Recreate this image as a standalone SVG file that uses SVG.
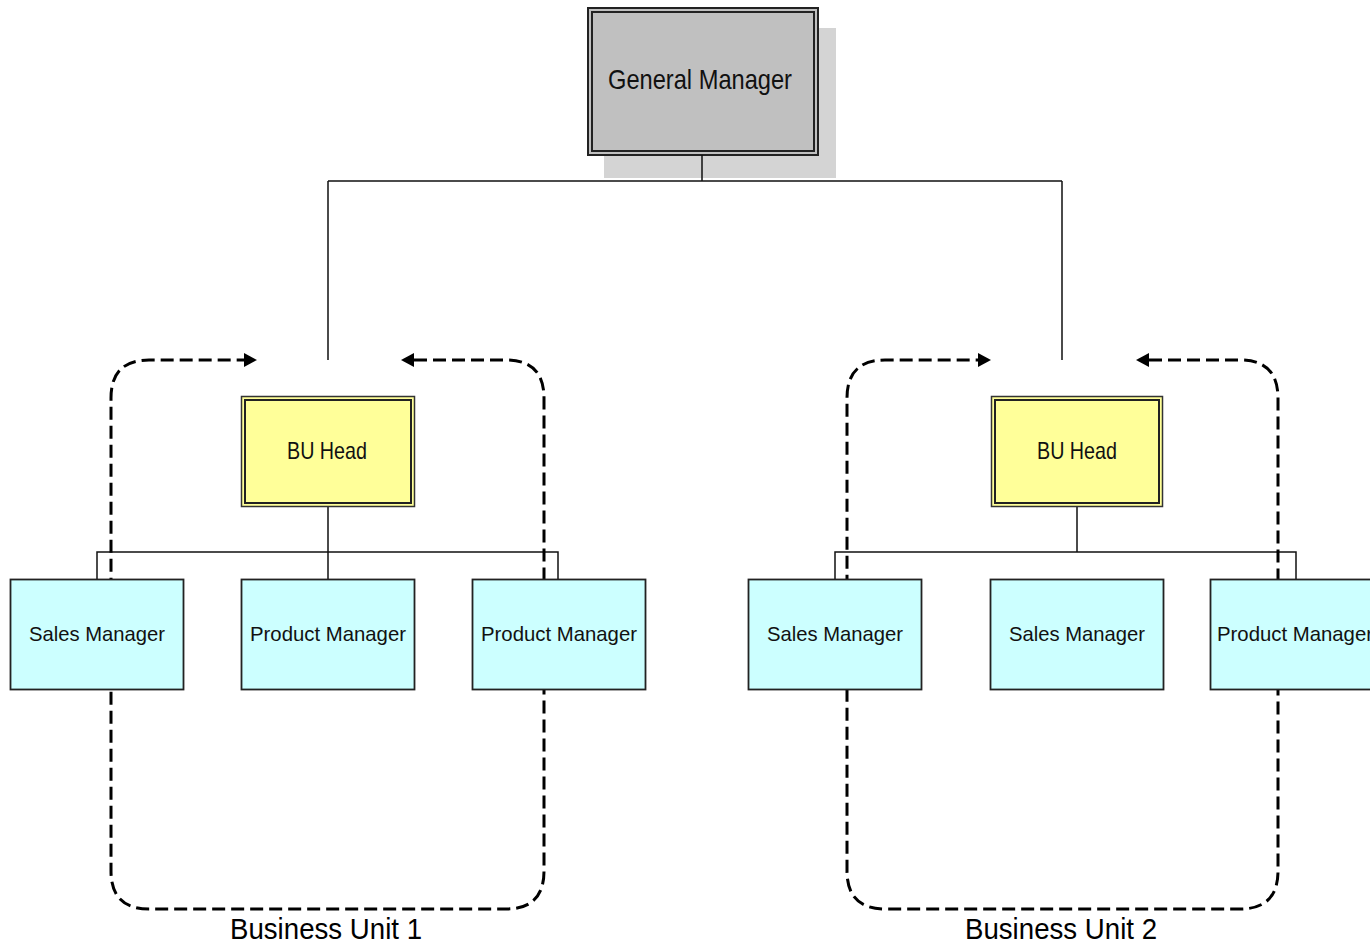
<svg xmlns="http://www.w3.org/2000/svg" width="1370" height="950" viewBox="0 0 1370 950">
  <style>
    .wire { fill: none; stroke: #111; stroke-width: 1.5; }
    .loop { fill: none; stroke: #000; stroke-width: 3; stroke-dasharray: 13 6; }
    .gm-outer { fill: #c0c0c0; stroke: #222; stroke-width: 2; }
    .gm-inner { fill: none; stroke: #222; stroke-width: 2; }
    .shadow { fill: #d4d4d4; }
    .head-outer { fill: #ffff99; stroke: #333; stroke-width: 1.5; }
    .head-inner { fill: none; stroke: #222; stroke-width: 2; }
    .role { fill: #ccffff; stroke: #222; stroke-width: 1.8; }
    text { font-family: "Liberation Sans", Arial, sans-serif; fill: #111; text-anchor: middle; }
    .t-gm { font-size: 28px; }
    .t-head { font-size: 24px; }
    .t-role { font-size: 21px; }
    .t-unit { font-size: 30px; fill: #000; }
  </style>
  <defs>
    <marker id="arrow" markerUnits="userSpaceOnUse" markerWidth="14" markerHeight="14" refX="0" refY="7" orient="auto-start-reverse">
      <path d="M0,0 L13,7 L0,14 z" fill="#000"/>
    </marker>
  </defs>

  <rect width="1370" height="950" fill="#fff"/>

  <g id="general-manager">
    <rect class="shadow" x="604" y="28" width="232" height="150"/>
    <rect class="gm-outer" x="588" y="8" width="230" height="147"/>
    <rect class="gm-inner" x="592" y="12" width="222" height="139"/>
    <text class="t-gm" x="700" y="89" textLength="184" lengthAdjust="spacingAndGlyphs">General Manager</text>
  </g>

  <!-- reporting lines -->
  <g id="connectors">
    <path class="wire" d="M702,155 V181 M328,181 H1062 M328,181 V360 M1062,181 V360"/>
    <path class="wire" d="M328,507 V579 M97,579 V552 H558 V579"/>
    <path class="wire" d="M1077,507 V552 M835,579 V552 H1296 V579"/>
    <!-- business unit boundaries with feedback arrows -->
    <path class="loop" marker-start="url(#arrow)" marker-end="url(#arrow)"
          d="M414,360 H506 Q544,360 544,398 V871 Q544,909 506,909 H149 Q111,909 111,871 V398 Q111,360 149,360 H244"/>
    <path class="loop" marker-start="url(#arrow)" marker-end="url(#arrow)"
          d="M1149,360 H1240 Q1278,360 1278,398 V871 Q1278,909 1240,909 H885 Q847,909 847,871 V398 Q847,360 885,360 H978"/>
  </g>

  <g id="bu1-head">
    <rect class="head-outer" x="241.5" y="396.5" width="173" height="110"/>
    <rect class="head-inner" x="245" y="400" width="166" height="103"/>
    <text class="t-head" x="327" y="459" textLength="80" lengthAdjust="spacingAndGlyphs">BU Head</text>
  </g>
  <g id="bu1-sales">
    <rect class="role" x="10.5" y="579.5" width="173" height="110"/>
    <text class="t-role" x="97" y="641" textLength="136" lengthAdjust="spacingAndGlyphs">Sales Manager</text>
  </g>
  <g id="bu1-product-a">
    <rect class="role" x="241.5" y="579.5" width="173" height="110"/>
    <text class="t-role" x="328" y="641" textLength="156" lengthAdjust="spacingAndGlyphs">Product Manager</text>
  </g>
  <g id="bu1-product-b">
    <rect class="role" x="472.5" y="579.5" width="173" height="110"/>
    <text class="t-role" x="559" y="641" textLength="156" lengthAdjust="spacingAndGlyphs">Product Manager</text>
  </g>
  <g id="bu1-label">
    <text class="t-unit" x="326" y="939" textLength="192" lengthAdjust="spacingAndGlyphs">Business Unit 1</text>
  </g>

  <g id="bu2-head">
    <rect class="head-outer" x="991.5" y="396.5" width="171" height="110"/>
    <rect class="head-inner" x="995" y="400" width="164" height="103"/>
    <text class="t-head" x="1077" y="459" textLength="80" lengthAdjust="spacingAndGlyphs">BU Head</text>
  </g>
  <g id="bu2-sales-a">
    <rect class="role" x="748.5" y="579.5" width="173" height="110"/>
    <text class="t-role" x="835" y="641" textLength="136" lengthAdjust="spacingAndGlyphs">Sales Manager</text>
  </g>
  <g id="bu2-sales-b">
    <rect class="role" x="990.5" y="579.5" width="173" height="110"/>
    <text class="t-role" x="1077" y="641" textLength="136" lengthAdjust="spacingAndGlyphs">Sales Manager</text>
  </g>
  <g id="bu2-product">
    <rect class="role" x="1210.5" y="579.5" width="173" height="110"/>
    <text class="t-role" x="1295" y="641" textLength="156" lengthAdjust="spacingAndGlyphs">Product Manager</text>
  </g>
  <g id="bu2-label">
    <text class="t-unit" x="1061" y="939" textLength="192" lengthAdjust="spacingAndGlyphs">Business Unit 2</text>
  </g>
</svg>
